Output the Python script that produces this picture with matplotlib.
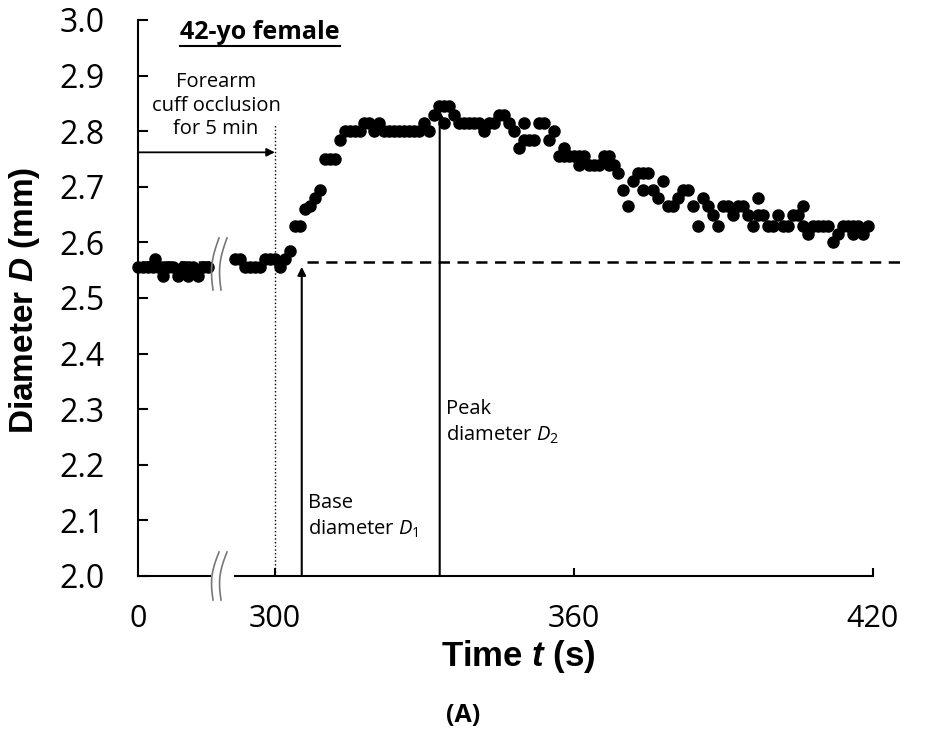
#! -*- coding: utf-8 -*-

#---------------------------------
# モジュールのインポート
#---------------------------------
import numpy as np
import matplotlib.pyplot as plt
from matplotlib.patches import ConnectionPatch
from matplotlib.lines import Line2D

#---------------------------------
# データ
#---------------------------------
# 0 s 付近 (break 前)
t_left = [0, 1, 2, 3, 3.5, 4, 5, 6, 7, 8, 9, 10, 11, 12, 13, 14]
d_left = [2.555, 2.555, 2.555, 2.555, 2.57, 2.555, 2.54, 2.555, 2.555, 2.54,
          2.555, 2.54, 2.555, 2.54, 2.555, 2.555]

# 292 - 420 s
t_right = [292, 293, 294, 295, 296, 297, 298, 299, 300, 301, 302, 303,
           304, 305, 306, 307, 308, 309, 310, 311, 312, 313,
           314, 315, 316, 317, 318, 319, 320, 321, 322, 323, 324, 325, 326, 327, 328, 329,
           330, 331, 332, 333, 334, 334, 335, 336, 337, 338, 339, 340, 341, 342, 343, 344,
           345, 346, 347, 348, 349, 350, 350, 351, 352, 353, 354, 355, 356,
           357, 358, 358, 359, 360, 361, 361, 362, 363, 364, 365, 366, 367, 367, 368,
           369, 370, 371, 372, 373, 374, 374, 375, 376, 377, 378, 379, 380, 381, 382, 383,
           384, 385, 386, 387, 388, 389, 390, 391, 392, 393, 394, 395, 396, 397, 397, 398,
           399, 400, 401, 402, 403, 404, 405, 406, 406, 407, 408, 409, 410, 411, 412, 413,
           414, 415, 416, 416, 417, 418, 419]
d_right = [2.57, 2.57, 2.555, 2.555, 2.555, 2.555, 2.57, 2.57, 2.57, 2.555, 2.57, 2.585,
           2.63, 2.63, 2.66, 2.665, 2.68, 2.695, 2.75, 2.75, 2.75, 2.785,
           2.80, 2.80, 2.80, 2.80, 2.815, 2.815, 2.80, 2.815, 2.80, 2.80, 2.80, 2.80, 2.80, 2.80, 2.80, 2.80,
           2.815, 2.80, 2.83, 2.845, 2.845, 2.815, 2.845, 2.83, 2.815, 2.815, 2.815, 2.815, 2.815, 2.80, 2.815, 2.815,
           2.83, 2.83, 2.815, 2.80, 2.77, 2.815, 2.785, 2.785, 2.785, 2.815, 2.815, 2.785, 2.80,
           2.755, 2.77, 2.755, 2.755, 2.755, 2.74, 2.755, 2.755, 2.74, 2.74, 2.74, 2.755, 2.755, 2.74, 2.74,
           2.725, 2.695, 2.665, 2.71, 2.725, 2.725, 2.695, 2.725, 2.695, 2.68, 2.71, 2.665, 2.665, 2.68, 2.695, 2.695,
           2.665, 2.63, 2.68, 2.665, 2.65, 2.63, 2.665, 2.665, 2.65, 2.665, 2.665, 2.65, 2.63, 2.68, 2.65, 2.65,
           2.63, 2.63, 2.65, 2.63, 2.63, 2.65, 2.65, 2.63, 2.665, 2.615, 2.63, 2.63, 2.63, 2.63, 2.60, 2.615,
           2.63, 2.63, 2.615, 2.63, 2.63, 2.615, 2.63]

base_d = 2.565      # 基準径 (破線)
occl_t = 300        # 駆血解除
base_t = 305.4      # D1 の矢印
base_tip = 2.556
peak_t = 333.1      # D2 の矢印
peak_tip = 2.838
occl_arrow_d = 2.762
occl_top = 2.811

y_ticks = [2.0, 2.1, 2.2, 2.3, 2.4, 2.5, 2.6, 2.7, 2.8, 2.9, 3.0]
x_ticks_left = [0]
x_ticks_right = [300, 360, 420]

W, H = 926, 735


#---------------------------------
# 関数
#---------------------------------
def fx(px):
	return px / W

def fy(py):
	return 1 - py / H

def break_mark(fig, x0, y0, y1):
	# 波線 (軸の省略記号) を2本描く
	s = np.linspace(0, 1, 40)
	for dx in [0, 8]:
		xs = x0 + dx + 6 * (1 - s) - 4 * np.sin(np.pi * s)
		ys = y0 + (y1 - y0) * s
		fig.add_artist(Line2D(fx(xs), fy(ys), color='#777777', lw=1.2))

def main():
	plt.rcParams['font.family'] = ['Open Sans', 'DejaVu Sans']
	plt.rcParams['mathtext.fontset'] = 'custom'
	plt.rcParams['mathtext.rm'] = 'Open Sans'
	plt.rcParams['mathtext.it'] = 'Open Sans:italic'
	plt.rcParams['mathtext.bfit'] = 'Liberation Sans:italic:bold'

	fig = plt.figure(figsize=(W / 100, H / 100), dpi=100)
	ax_b = fy(576)
	ax_h = 556 / H
	axL = fig.add_axes([fx(138), ax_b, fx(210 - 138), ax_h])
	axR = fig.add_axes([fx(235), ax_b, fx(873 - 235), ax_h])

	for ax in [axL, axR]:
		ax.set_ylim(2.0, 3.0)
		ax.spines['top'].set_visible(False)
		ax.spines['right'].set_visible(False)
		ax.spines['bottom'].set_linewidth(1.5)
		ax.spines['left'].set_linewidth(1.5)
		ax.patch.set_alpha(0)

	axL.set_xlim(0, 14.46)
	axR.set_xlim(292, 420.1)
	axR.spines['left'].set_visible(False)

	axL.set_yticks(y_ticks)
	axL.set_yticklabels(['{:.1f}'.format(v) for v in y_ticks])
	axL.tick_params(axis='y', direction='in', length=7, width=1.5, labelsize=23, pad=24)
	axL.set_xticks(x_ticks_left)
	axL.tick_params(axis='x', length=0, labelsize=22, pad=20)
	axR.set_yticks([])
	axR.set_xticks(x_ticks_right)
	axR.tick_params(axis='x', direction='in', length=6, width=1.5, labelsize=22, pad=20)

	# データ点
	axL.plot(t_left, d_left, 'o', color='black', ms=8, clip_on=False, zorder=3)
	axR.plot(t_right, d_right, 'o', color='black', ms=8, clip_on=False, zorder=3)

	# 基準線 (破線)
	axL.plot([0.8, 14.4], [base_d, base_d], color='black', lw=1.8,
		linestyle=(0, (4.5, 3)), clip_on=False, zorder=2)
	axR.plot([306.5, 425.5], [base_d, base_d], color='black', lw=1.8,
		linestyle=(0, (4.5, 3)), clip_on=False, zorder=2)

	# 駆血解除の点線と矢印
	axR.plot([occl_t, occl_t], [2.0, occl_top], color='black', lw=1.0, linestyle=':')
	con = ConnectionPatch(xyA=(0, occl_arrow_d), coordsA=axL.transData,
		xyB=(occl_t, occl_arrow_d), coordsB=axR.transData,
		arrowstyle='-|>', mutation_scale=12, lw=1.3, color='black', shrinkA=0, shrinkB=0)
	fig.add_artist(con)

	# D1, D2 の矢印
	axR.annotate('', xy=(base_t, base_tip), xytext=(base_t, 2.0),
		arrowprops=dict(arrowstyle='-|>', mutation_scale=12, lw=1.5, color='black', shrinkA=0, shrinkB=0))
	axR.annotate('', xy=(peak_t, peak_tip), xytext=(peak_t, 2.0),
		arrowprops=dict(arrowstyle='-|>', mutation_scale=12, lw=1.5, color='black', shrinkA=0, shrinkB=0))

	axR.text(306.6, 2.149, 'Base\ndiameter $\\mathit{D}_1$', fontsize=14.5, ha='left', va='top', linespacing=1.25)
	axR.text(334.3, 2.318, 'Peak\ndiameter $\\mathit{D}_2$', fontsize=14.5, ha='left', va='top', linespacing=1.25)
	fig.text(fx(216), fy(72), 'Forearm\ncuff occlusion\nfor 5 min', fontsize=14.5,
		ha='center', va='top', multialignment='center', linespacing=1.25)

	# 軸ラベル
	axL.set_ylabel('Diameter $\\mathbfit{D}$ (mm)', fontsize=24, fontweight='bold', family='Liberation Sans')
	axL.yaxis.set_label_coords(-1.33, 0.496)
	axR.set_xlabel('Time $\\mathbfit{t}$ (s)', fontsize=25, fontweight='bold', family='Liberation Sans')
	axR.xaxis.set_label_coords(0.4436, -0.112)

	# タイトル (下線付き)
	title = fig.text(fx(180), fy(20), '42-yo female', fontsize=18, fontweight='bold', ha='left', va='top')
	fig.text(0.5, fy(715), '(A)', fontsize=18, fontweight='bold', ha='center', va='center')

	# 省略記号
	break_mark(fig, 213, 552, 600)
	break_mark(fig, 213, 238, 290)

	fig.canvas.draw()
	bb = title.get_window_extent(fig.canvas.get_renderer())
	fig.add_artist(Line2D([bb.x0 / W, bb.x1 / W], [(bb.y0 - 1) / H, (bb.y0 - 1) / H], color='black', lw=1.5))

	plt.savefig('out.png', dpi=100)
	plt.close()
	return

#---------------------------------
# メイン処理
#---------------------------------
if __name__ == '__main__':
	main()
